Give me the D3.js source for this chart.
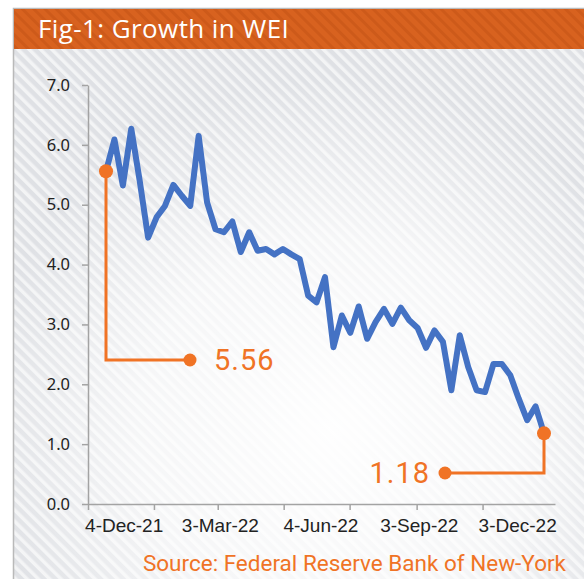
<!DOCTYPE html>
<html>
<head>
<meta charset="utf-8">
<style>
  body { margin: 0; background: #ffffff; }
</style>
</head>
<body>
<script src="https://cdn.jsdelivr.net/npm/d3@7"></script>
<script>
var svgWidth = 584, svgHeight = 579;

// weekly WEI readings, one per Saturday starting 4-Dec-21
var firstWeek = '2021-12-04';
var wei = [5.56, 6.09, 5.32, 6.27, 5.40, 4.45, 4.79, 4.98, 5.33, 5.15,
           4.98, 6.15, 5.04, 4.59, 4.54, 4.72, 4.21, 4.54, 4.23, 4.26,
           4.17, 4.26, 4.17, 4.09, 3.48, 3.37, 3.79, 2.62, 3.15, 2.86,
           3.30, 2.76, 3.04, 3.26, 3.01, 3.28, 3.07, 2.94, 2.61, 2.90,
           2.71, 1.90, 2.82, 2.29, 1.90, 1.87, 2.34, 2.34, 2.15, 1.76,
           1.40, 1.63, 1.18];

var yTicks = [0, 1, 2, 3, 4, 5, 6, 7];
var xLabelDates = ['2021-12-04', '2022-03-03', '2022-06-04', '2022-09-03', '2022-12-03'];
var xLabels = ['4-Dec-21', '3-Mar-22', '4-Jun-22', '3-Sep-22', '3-Dec-22'];
var axisStart = '2021-11-01', axisEnd = '2023-01-07';
var titleText = 'Fig-1: Growth in WEI';
var sourceText = 'Source: Federal Reserve Bank of New-York';

var parse = d3.timeParse('%Y-%m-%d');
var dates = wei.map(function (d, i) { return d3.timeWeek.offset(parse(firstWeek), i); });
var data = wei.map(function (v, i) { return { date: dates[i], value: v }; });

var orange = '#f07325', blue = '#4472c4';

var svg = d3.select('body').append('svg')
    .attr('width', svgWidth)
    .attr('height', svgHeight);

var defs = svg.append('defs');

var stripes = defs.append('pattern')
    .attr('id', 'stripes')
    .attr('patternUnits', 'userSpaceOnUse')
    .attr('width', 8).attr('height', 8)
    .attr('patternTransform', 'rotate(-45)');
stripes.append('rect').attr('width', 8).attr('height', 8).attr('fill', '#dfe1e5');
stripes.append('rect').attr('width', 3.5).attr('height', 8).attr('fill', '#f3f4f5');

var darkStripes = defs.append('pattern')
    .attr('id', 'darkStripes')
    .attr('patternUnits', 'userSpaceOnUse')
    .attr('width', 8).attr('height', 8)
    .attr('patternTransform', 'rotate(-45)');
darkStripes.append('rect').attr('width', 8).attr('height', 8).attr('fill', '#d8621f');
darkStripes.append('rect').attr('width', 3).attr('height', 8).attr('fill', '#cd5a1a');

var glow = defs.append('radialGradient')
    .attr('id', 'glow')
    .attr('gradientUnits', 'userSpaceOnUse')
    .attr('cx', 330).attr('cy', 430).attr('r', 350);
glow.append('stop').attr('offset', '0%').attr('stop-color', '#ffffff').attr('stop-opacity', 0.97);
glow.append('stop').attr('offset', '55%').attr('stop-color', '#ffffff').attr('stop-opacity', 0.7);
glow.append('stop').attr('offset', '100%').attr('stop-color', '#ffffff').attr('stop-opacity', 0);

// panel + title bar
var panel = { left: 13, top: 8, titleHeight: 40 };
svg.append('rect')
    .attr('x', panel.left).attr('y', panel.top)
    .attr('width', svgWidth - panel.left).attr('height', svgHeight - panel.top)
    .attr('fill', 'url(#stripes)');
svg.append('rect')
    .attr('x', panel.left).attr('y', panel.top)
    .attr('width', svgWidth - panel.left).attr('height', svgHeight - panel.top)
    .attr('fill', 'url(#glow)');
svg.append('path')
    .attr('d', 'M' + (panel.left + 0.5) + ',' + svgHeight + 'V' + (panel.top + 0.5) + 'H' + svgWidth)
    .attr('fill', 'none').attr('stroke', '#b9b9b9').attr('stroke-width', 1.5);
svg.append('rect')
    .attr('x', panel.left + 1).attr('y', panel.top + 1)
    .attr('width', svgWidth - panel.left - 1).attr('height', panel.titleHeight)
    .attr('fill', 'url(#darkStripes)');
svg.append('text')
    .attr('x', 38).attr('y', 38)
    .attr('fill', '#ffffff')
    .style('font-family', '"Open Sans", sans-serif')
    .style('font-size', '26px')
    .style('letter-spacing', '0.4px')
    .text(titleText);

// scales
var plot = { left: 88, right: 555, top: 85, bottom: 504 };
var yScale = d3.scaleLinear().domain([0, 7]).range([plot.bottom, plot.top]);
var xAxisScale = d3.scaleTime()
    .domain([parse(axisStart), parse(axisEnd)])
    .range([plot.left, plot.right]);
// the series is drawn slightly inset from the date axis, as in the original figure
var xLine = d3.scaleTime()
    .domain(d3.extent(dates))
    .range([106, 544]);

// y axis
var yAxis = d3.axisLeft(yScale)
    .tickValues(yTicks)
    .tickFormat(d3.format('.1f'))
    .tickSize(6).tickSizeOuter(0).tickPadding(12);
var yAxisNodes = svg.append('g')
    .attr('transform', 'translate(' + plot.left + ',0)')
    .call(yAxis);
yAxisNodes.selectAll('path, line').attr('stroke', '#a3a3a3').attr('stroke-width', 1.5);
yAxisNodes.selectAll('text')
    .attr('fill', '#222')
    .style('font-family', '"Noto Sans", sans-serif')
    .style('font-size', '16.5px');

// x axis: tick marks every two months, labels on their own dates
var tickDates = d3.timeMonth.every(2).range(parse(axisStart), parse('2022-12-01'));
var xAxis = d3.axisBottom(xAxisScale)
    .tickValues(tickDates)
    .tickFormat('')
    .tickSize(6).tickSizeOuter(0);
var xAxisNodes = svg.append('g')
    .attr('transform', 'translate(0,' + plot.bottom + ')')
    .call(xAxis);
xAxisNodes.selectAll('path, line').attr('stroke', '#a3a3a3').attr('stroke-width', 1.5);

var labelAxis = d3.axisBottom(xAxisScale)
    .tickValues(xLabelDates.map(parse))
    .tickFormat(function (d, i) { return xLabels[i]; })
    .tickSize(0).tickPadding(15);
var labelNodes = svg.append('g')
    .attr('transform', 'translate(0,' + plot.bottom + ')')
    .call(labelAxis);
labelNodes.select('.domain').remove();
labelNodes.selectAll('text')
    .attr('fill', '#222')
    .style('font-family', '"Liberation Sans", Arial, sans-serif')
    .style('font-size', '19px');

// series
var line = d3.line()
    .x(function (d) { return xLine(d.date); })
    .y(function (d) { return yScale(d.value); });
svg.append('path')
    .datum(data)
    .attr('d', line)
    .attr('fill', 'none')
    .attr('stroke', blue)
    .attr('stroke-width', 6)
    .attr('stroke-linejoin', 'round');

// callouts for first and last reading
var first = data[0], last = data[data.length - 1];
var callouts = [
    { d: first, elbowY: 360, endDx: 84, labelDx: 24, anchor: 'start' },
    { d: last, elbowY: 473, endDx: -99, labelDx: -15, anchor: 'end' }
];
callouts.forEach(function (c) {
    var px = xLine(c.d.date), py = yScale(c.d.value), ex = px + c.endDx;
    svg.append('path')
        .attr('d', 'M' + px + ',' + py + 'V' + c.elbowY + 'H' + ex)
        .attr('fill', 'none').attr('stroke', orange).attr('stroke-width', 3);
    svg.append('circle').attr('cx', px).attr('cy', py).attr('r', 7).attr('fill', orange);
    svg.append('circle').attr('cx', ex).attr('cy', c.elbowY).attr('r', 6.5).attr('fill', orange);
    svg.append('text')
        .attr('x', ex + c.labelDx).attr('y', c.elbowY + 10)
        .attr('text-anchor', c.anchor)
        .attr('fill', orange)
        .style('font-family', 'Roboto, sans-serif')
        .style('font-size', '29px')
        .style('letter-spacing', '1px')
        .text(d3.format('.2f')(c.d.value));
});

svg.append('text')
    .attr('x', 566).attr('y', 571)
    .attr('text-anchor', 'end')
    .attr('fill', orange)
    .style('font-family', 'Roboto, sans-serif')
    .style('font-size', '22.5px')
    .text(sourceText);
</script>
</body>
</html>
